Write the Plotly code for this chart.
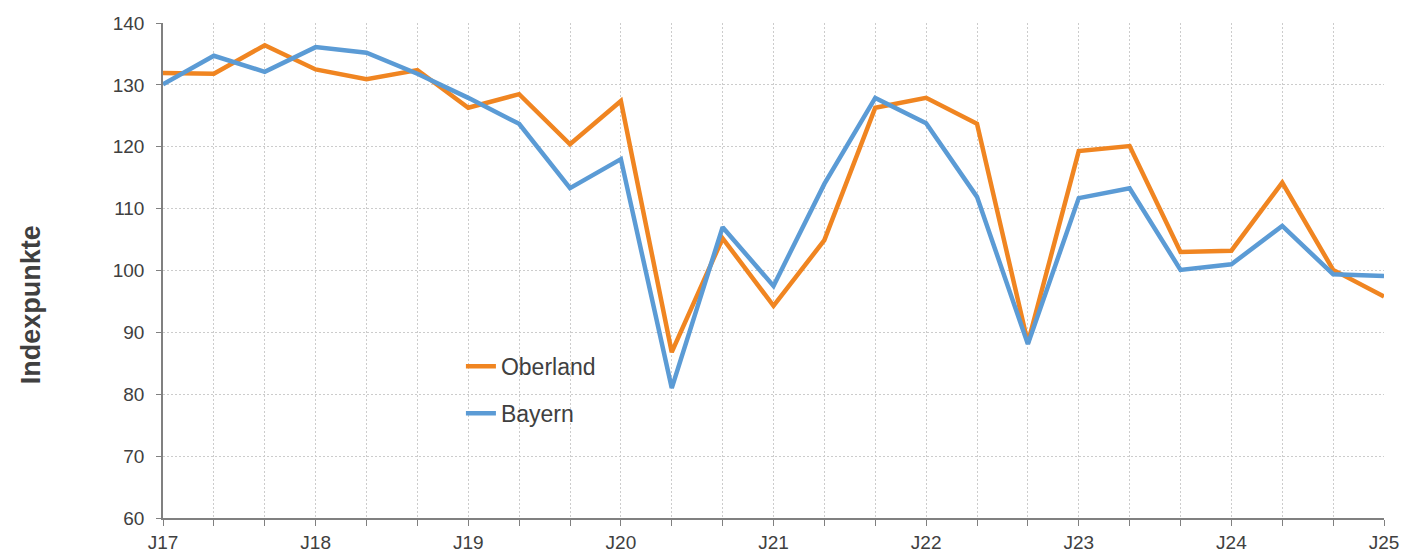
import plotly.graph_objects as go

periods = list(range(25))
tick_labels = ["J17", "", "", "J18", "", "", "J19", "", "", "J20", "", "", "J21", "", "",
               "J22", "", "", "J23", "", "", "J24", "", "", "J25"]
oberland = [131.9, 131.8, 136.4, 132.5, 130.9, 132.4, 126.3, 128.5, 120.4, 127.4, 86.8, 105.2,
            94.3, 104.9, 126.3, 127.9, 123.7, 88.3, 119.3, 120.1, 103.0, 103.2, 114.2, 100.1, 95.8]
bayern = [130.1, 134.7, 132.1, 136.1, 135.2, 131.8, 127.9, 123.7, 113.3, 118.0, 81.0, 107.0,
          97.5, 114.0, 127.9, 123.8, 111.9, 88.1, 111.7, 113.3, 100.1, 101.0, 107.2, 99.4, 99.1]

font = "Liberation Sans, Arial, sans-serif"
txt = "#404040"
fig = go.Figure()
fig.add_trace(go.Scatter(x=periods, y=oberland, mode="lines", name="Oberland", legendgroup="a",
                         line=dict(color="#F08521", width=4.5)))
fig.add_trace(go.Scatter(x=periods, y=bayern, mode="lines", name="Bayern", legendgroup="b",
                         line=dict(color="#5B9BD5", width=4.5)))

fig.update_layout(
    width=1418, height=552,
    margin=dict(l=155, r=42, t=15, b=42),
    plot_bgcolor="white", paper_bgcolor="white",
    font=dict(family=font, size=19, color=txt),
    showlegend=True,
    legend=dict(x=0.244, y=0.259, xanchor="left", yanchor="middle", bgcolor="rgba(0,0,0,0)",
                font=dict(size=23, color=txt), tracegroupgap=14),
    xaxis=dict(range=[0, 24], tickvals=periods, ticktext=tick_labels, showgrid=True,
               gridcolor="#cccccc", griddash="2px,2px", gridwidth=1,
               showline=True, linecolor="#808080", linewidth=1.5,
               ticks="outside", ticklen=6, tickcolor="#808080", tickwidth=1.2,
               ticklabelstandoff=0,
               tickfont=dict(size=19, color=txt), zeroline=False, automargin=False),
    yaxis=dict(range=[60, 140], tickvals=[60, 70, 80, 90, 100, 110, 120, 130, 140], showgrid=True,
               gridcolor="#cccccc", griddash="2px,2px", gridwidth=1,
               showline=True, linecolor="#808080", linewidth=1.5,
               ticks="outside", ticklen=5, tickcolor="#808080", tickwidth=1.2,
               ticklabelstandoff=8,
               tickfont=dict(size=19, color=txt), zeroline=False, automargin=False),
    annotations=[dict(text="<b>Indexpunkte</b>", xref="paper", yref="paper",
                      x=-0.108, y=0.43, xanchor="center", yanchor="middle", textangle=-90,
                      showarrow=False, font=dict(size=27, color=txt))],
)
fig.write_html("out.html")
